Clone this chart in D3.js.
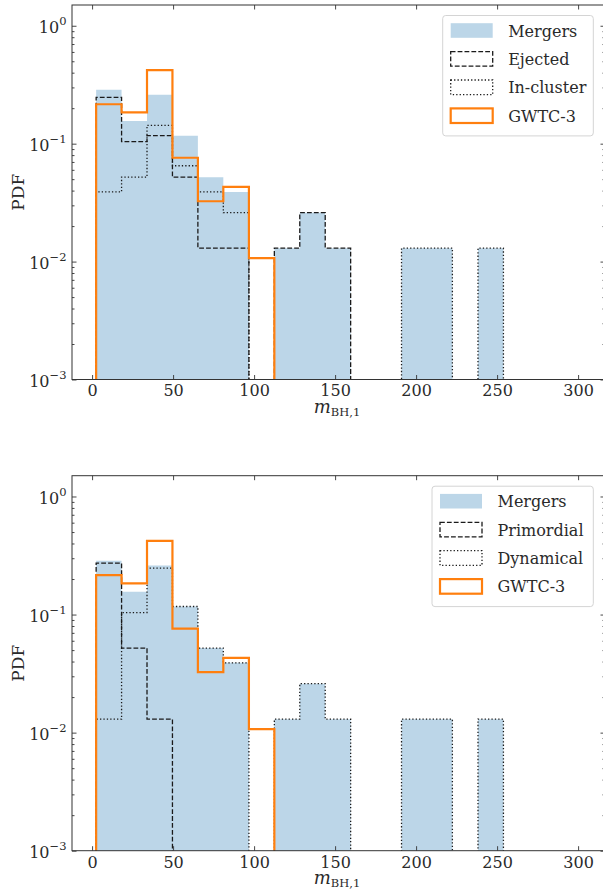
<!DOCTYPE html>
<html>
<head>
<meta charset="utf-8">
<script src="https://cdn.jsdelivr.net/npm/d3@7"></script>
<style>
  html, body { margin: 0; padding: 0; background: #fff; }
  svg { display: block; }
</style>
</head>
<body>
<div id="chart"></div>
<script>
// ---------- data ----------
const binEdges = [2.5, 18.2, 33.9, 49.6, 65.3, 81.0, 96.8, 112.5, 128.2, 143.9, 159.6, 175.3, 191.0, 206.7, 222.4, 238.2, 253.9];
const mergers    = [0.286, 0.156, 0.260, 0.117, 0.052, 0.039, 0, 0.013, 0.026, 0.013, 0, 0, 0.013, 0.013, 0, 0.013];
const ejected    = [0.247, 0.104, 0.117, 0.052, 0.013, 0.013, 0, 0.013, 0.026, 0.013, 0, 0, 0, 0, 0, 0];
const inCluster  = [0.039, 0.052, 0.143, 0.065, 0.039, 0.026, 0, 0, 0, 0, 0, 0, 0.013, 0.013, 0, 0.013];
const primordial = [0.273, 0.052, 0.013, 0, 0, 0, 0, 0, 0, 0, 0, 0, 0, 0, 0, 0];
const dynamical  = [0.013, 0.104, 0.247, 0.117, 0.052, 0.039, 0, 0.013, 0.026, 0.013, 0, 0, 0.013, 0.013, 0, 0.013];
const gwtc3      = [0.216, 0.184, 0.420, 0.076, 0.0325, 0.043, 0.0107, 0, 0, 0, 0, 0, 0, 0, 0, 0];
const xTicks = [0, 50, 100, 150, 200, 250, 300];
const yMajorExps = [-3, -2, -1, 0];
const topLabels = ["Mergers", "Ejected", "In-cluster", "GWTC-3"];
const bottomLabels = ["Mergers", "Primordial", "Dynamical", "GWTC-3"];

// ---------- layout ----------
const W = 603, H = 895;
const FONT = "'DejaVu Serif'";
const svg = d3.select("#chart").append("svg").attr("width", W).attr("height", H)
  .style("font-family", FONT);

const BLUE_FILL = "#bcd6e8";
const ORANGE = "#ff7f0e";
const LINE = "#1a1a1a";
const TXT = "#2a2a2a";
const FS = 16;

const panels = [
  { top: 5, bottom: 379.5, second: ejected, third: inCluster, labels: topLabels, legW: 150.6 },
  { top: 475.7, bottom: 850.7, second: primordial, third: dynamical, labels: bottomLabels, legW: 161.3 }
];
const left = 72, right = 605;

const x = d3.scaleLinear().domain([-12.4, 316.6]).range([left, right]);

panels.forEach((p, pi) => {
  const y = d3.scaleLog().domain([1e-3, 1.5]).range([p.bottom, p.top]);
  const g = svg.append("g");
  const clipId = "clip" + pi;
  g.append("clipPath").attr("id", clipId).append("rect")
    .attr("x", left).attr("y", p.top).attr("width", right - left).attr("height", p.bottom - p.top);

  const yv = v => v > 0 ? y(v) : p.bottom + 4;
  function stepPoints(vals) {
    const pts = [[x(binEdges[0]), p.bottom + 4]];
    vals.forEach((v, i) => {
      pts.push([x(binEdges[i]), yv(v)]);
      pts.push([x(binEdges[i + 1]), yv(v)]);
    });
    pts.push([x(binEdges[binEdges.length - 1]), p.bottom + 4]);
    return pts;
  }
  const line = d3.line();
  const plot = g.append("g").attr("clip-path", `url(#${clipId})`);

  plot.append("path").attr("d", line(stepPoints(mergers)) + "Z")
    .attr("fill", BLUE_FILL).attr("stroke", "none");
  plot.append("path").attr("d", line(stepPoints(p.second)))
    .attr("fill", "none").attr("stroke", LINE).attr("stroke-width", 1.3)
    .attr("stroke-dasharray", "4.8,2.1");
  plot.append("path").attr("d", line(stepPoints(p.third)))
    .attr("fill", "none").attr("stroke", LINE).attr("stroke-width", 1.3)
    .attr("stroke-dasharray", "1.3,2.1");
  plot.append("path").attr("d", line(stepPoints(gwtc3)))
    .attr("fill", "none").attr("stroke", ORANGE).attr("stroke-width", 2.2)
    .attr("stroke-linejoin", "miter");

  // axes (ticks inward)
  const majors = yMajorExps.map(e => Math.pow(10, e));
  const minors = y.ticks().filter(t => !majors.some(m => Math.abs(m - t) / m < 1e-6) && t <= 1.5);

  const axB = g.append("g").attr("transform", `translate(0,${p.bottom})`)
    .call(d3.axisBottom(x).tickValues(xTicks).tickSizeInner(-4.5).tickSizeOuter(0).tickPadding(5.5));
  const axT = g.append("g").attr("transform", `translate(0,${p.top})`)
    .call(d3.axisTop(x).tickValues(xTicks).tickSizeInner(-4.5).tickSizeOuter(0).tickFormat(""));
  const axL = g.append("g").attr("transform", `translate(${left},0)`)
    .call(d3.axisLeft(y).tickValues(majors).tickSizeInner(-4.5).tickSizeOuter(0).tickFormat(""));
  const axLm = g.append("g").attr("transform", `translate(${left},0)`)
    .call(d3.axisLeft(y).tickValues(minors).tickSizeInner(-2.5).tickSizeOuter(0).tickFormat(""));
  const axR = g.append("g").attr("transform", `translate(${right},0)`)
    .call(d3.axisRight(y).tickValues(majors).tickSizeInner(-4.5).tickSizeOuter(0).tickFormat(""));
  const axRm = g.append("g").attr("transform", `translate(${right},0)`)
    .call(d3.axisRight(y).tickValues(minors).tickSizeInner(-2.5).tickSizeOuter(0).tickFormat(""));
  [axB, axT, axL, axLm, axR, axRm].forEach(a => {
    a.attr("font-family", null).style("font-family", FONT);
    a.select(".domain").remove();
    a.selectAll("line").attr("stroke", "#333").attr("stroke-width", 0.9);
  });
  axB.selectAll("text").attr("font-size", FS).attr("fill", TXT).style("font-family", FONT);

  // y tick labels 10^n
  axL.selectAll(".tick").each(function(d) {
    const e = Math.round(Math.log10(d));
    const t = d3.select(this).append("text")
      .attr("x", -5.5).attr("y", 7).attr("text-anchor", "end")
      .attr("font-size", FS).attr("fill", TXT).style("font-family", FONT);
    t.append("tspan").text("10");
    t.append("tspan").attr("dy", -8).attr("font-size", 11.5)
      .text(e === 0 ? "0" : "\u2212" + Math.abs(e));
  });

  // spines
  g.append("rect").attr("x", left).attr("y", p.top)
    .attr("width", right - left).attr("height", p.bottom - p.top)
    .attr("fill", "none").attr("stroke", "#333").attr("stroke-width", 1);

  // axis labels
  svg.append("text")
    .attr("transform", `translate(24,${(p.top + p.bottom) / 2}) rotate(-90)`)
    .attr("text-anchor", "middle").attr("font-size", 17).attr("fill", TXT)
    .style("font-family", FONT).text("PDF");
  const xl = svg.append("text").attr("x", 337).attr("y", p.bottom + 33)
    .attr("text-anchor", "middle").attr("font-size", 18).attr("fill", TXT)
    .style("font-family", FONT);
  xl.append("tspan").attr("font-style", "italic").text("m");
  xl.append("tspan").attr("dy", 3.5).attr("font-size", 11.5).text("BH,1");

  // legend
  const legR = 593.3;
  const legX = legR - p.legW, legY = p.top + 10.5;
  const lg = g.append("g");
  lg.append("rect").attr("x", legX).attr("y", legY).attr("width", p.legW).attr("height", 120.4)
    .attr("rx", 3).attr("fill", "#fff").attr("fill-opacity", 0.85)
    .attr("stroke", "#d4d4d4").attr("stroke-width", 1);
  const styles = [
    { fill: BLUE_FILL, stroke: "none", sw: 0, dash: null },
    { fill: "none", stroke: LINE, sw: 1.3, dash: "4.8,2.1" },
    { fill: "none", stroke: LINE, sw: 1.3, dash: "1.3,2.1" },
    { fill: "#fff", stroke: ORANGE, sw: 2.2, dash: null }
  ];
  p.labels.forEach((lab, i) => {
    const cy = legY + 15 + i * 28.4;
    const px = legX + 8;
    const r = lg.append("rect").attr("x", px).attr("y", cy - 7.3).attr("width", 42).attr("height", 14.6)
      .attr("fill", styles[i].fill).attr("stroke", styles[i].stroke).attr("stroke-width", styles[i].sw);
    if (styles[i].dash) r.attr("stroke-dasharray", styles[i].dash);
    lg.append("text").attr("x", px + 57.5).attr("y", cy + 6).attr("font-size", FS)
      .attr("fill", TXT).style("font-family", FONT).text(lab);
  });
});
</script>
</body>
</html>
